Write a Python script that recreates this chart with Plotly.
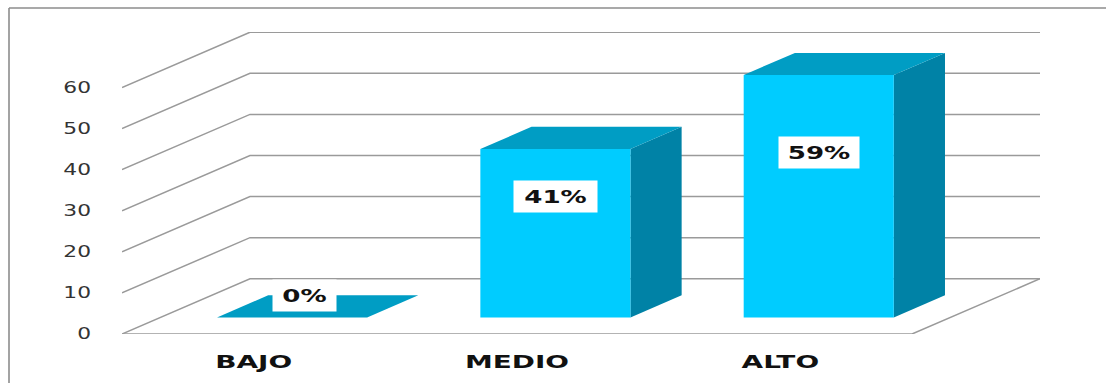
import plotly.graph_objects as go

# Chart data
categories = ["BAJO", "MEDIO", "ALTO"]
values = [0, 41, 59]
value_labels = ["0%", "41%", "59%"]
y_ticks = [0, 10, 20, 30, 40, 50, 60]

# Oblique projection of the third dimension, in axis units
DEPTH_X = 0.486
DEPTH_Y = 13.45
BAR_WIDTH = 0.57
BAR_FRONT = 0.30
BAR_BACK = 0.70

FRONT_COLOR = "#00CCFF"
SIDE_COLOR = "#0082A6"
TOP_COLOR = "#009DC4"
GRID_COLOR = "#9A9A9A"
FRAME_COLOR = "#8C8C8C"

X_MIN, X_MAX = -0.5, 2.5
Y_TOP = 73.5


def project(x, y, depth):
    return x + depth * DEPTH_X, y + depth * DEPTH_Y


def line_path(points):
    xs, ys = zip(*[project(*p) for p in points])
    return list(xs), list(ys)


fig = go.Figure()


def add_line(points):
    xs, ys = line_path(points)
    fig.add_trace(go.Scatter(x=xs, y=ys, mode="lines", cliponaxis=False,
                             line=dict(color=GRID_COLOR, width=1.5),
                             hoverinfo="skip", showlegend=False))


def add_face(points, color):
    xs, ys = line_path(points)
    fig.add_trace(go.Scatter(x=xs, y=ys, mode="lines", fill="toself", fillcolor=color,
                             line=dict(width=0, color=color),
                             hoverinfo="skip", showlegend=False))


# Left wall and back wall gridlines
for tick in y_ticks:
    add_line([(X_MIN, tick, 0), (X_MIN, tick, 1), (X_MAX, tick, 1)])

# Floor outline
add_line([(X_MIN, 0, 0), (X_MAX, 0, 0), (X_MAX, 0, 1)])

# Each bar is three faces
for i, value in enumerate(values):
    left, right = i - BAR_WIDTH / 2, i + BAR_WIDTH / 2
    add_face([(right, 0, BAR_FRONT), (right, 0, BAR_BACK), (right, value, BAR_BACK),
              (right, value, BAR_FRONT), (right, 0, BAR_FRONT)], SIDE_COLOR)
    add_face([(left, value, BAR_FRONT), (right, value, BAR_FRONT), (right, value, BAR_BACK),
              (left, value, BAR_BACK), (left, value, BAR_FRONT)], TOP_COLOR)
    add_face([(left, 0, BAR_FRONT), (right, 0, BAR_FRONT), (right, value, BAR_FRONT),
              (left, value, BAR_FRONT), (left, 0, BAR_FRONT)], FRONT_COLOR)

# Value labels on white boxes
box_widths = {"0%": 61, "41%": 81, "59%": 78}
label_shift = {"0%": 12, "41%": 0, "59%": 0}
for i, (value, text) in enumerate(zip(values, value_labels)):
    fx, _ = project(i, 0, BAR_FRONT)
    fig.add_annotation(x=fx, y=9.3 + 0.59 * value, text=f"<b>{text}</b>", showarrow=False,
                       xshift=label_shift[text], width=box_widths[text], height=29,
                       bgcolor="#FFFFFF", font=dict(family="DejaVu Sans", size=18, color="#111111"))

WIDTH, HEIGHT = 1106, 383
MARGIN = dict(l=122, r=66, t=32, b=49)
plot_w = WIDTH - MARGIN["l"] - MARGIN["r"]
plot_h = HEIGHT - MARGIN["t"] - MARGIN["b"]


def paper_x(px):
    return (px - MARGIN["l"]) / plot_w


def paper_y(py):
    return (HEIGHT - MARGIN["b"] - py) / plot_h


# Outer chart frame: top and left edges only
frame = dict(type="line", xref="paper", yref="paper", line=dict(color=FRAME_COLOR, width=1.6))
fig.add_shape(x0=paper_x(9), x1=paper_x(1106), y0=paper_y(8), y1=paper_y(8), **frame)
fig.add_shape(x0=paper_x(9), x1=paper_x(9), y0=paper_y(8), y1=paper_y(383), **frame)

fig.update_layout(
    width=WIDTH, height=HEIGHT, margin=MARGIN, autosize=False,
    paper_bgcolor="#FFFFFF", plot_bgcolor="#FFFFFF", showlegend=False,
    xaxis=dict(range=[X_MIN, X_MAX + DEPTH_X], tickmode="array", tickvals=[0, 1, 2], ticktext=[f"<b>{c}</b>" for c in categories],
               showgrid=False, zeroline=False, showline=False, ticks="outside", ticklen=11,
               tickcolor="rgba(0,0,0,0)", tickfont=dict(family="DejaVu Sans", size=18, color="#111111")),
    yaxis=dict(range=[0, Y_TOP], tickmode="array", tickvals=y_ticks, showgrid=False, zeroline=False,
               showline=False, ticks="outside", ticklen=27, tickcolor="rgba(0,0,0,0)",
               tickfont=dict(family="DejaVu Sans", size=15, color="#333333")),
)

# Widen the lettering horizontally, as in a chart stretched to fit its slot
widen_text = """
document.querySelectorAll('.main-svg text').forEach(function (t) {
  var len = t.getComputedTextLength();
  if (len > 0) {
    var factor = t.closest('.xtick') ? 1.55 : 1.45;
    t.setAttribute('textLength', len * factor);
    t.setAttribute('lengthAdjust', 'spacingAndGlyphs');
  }
});
"""

fig.write_html("out.html", config=dict(displayModeBar=False), post_script=widen_text)
